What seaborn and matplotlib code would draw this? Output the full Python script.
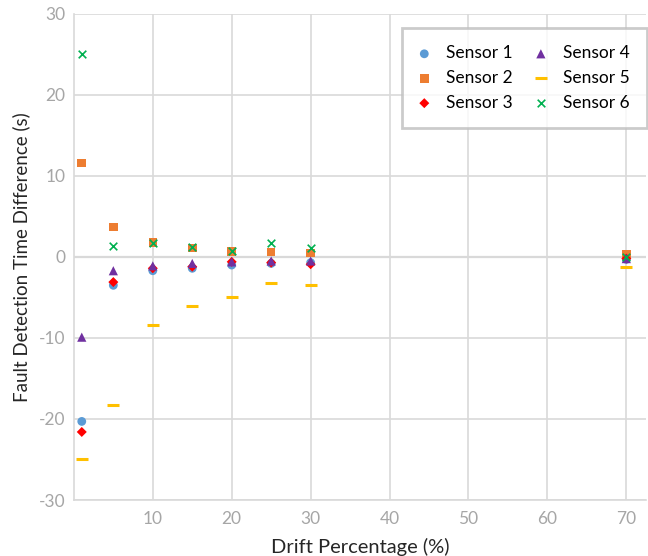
import matplotlib
matplotlib.use("Agg")
import matplotlib.pyplot as plt
import seaborn as sns
import pandas as pd

drift = [1, 5, 10, 15, 20, 25, 30, 70]
sensor1 = [-20.3, -3.5, -1.7, -1.4, -1.0, -0.8, -0.7, -0.3]
sensor2 = [11.6, 3.7, 1.8, 1.1, 0.7, 0.6, 0.5, 0.3]
sensor3 = [-21.6, -3.1, -1.4, -1.2, -0.6, -0.7, -0.9, -0.2]
sensor4 = [-9.9, -1.7, -1.1, -0.8, -0.6, -0.5, -0.5, -0.2]
sensor5 = [-24.9, -18.3, -8.4, -6.1, -4.9, -3.2, -3.5, -1.2]
sensor6 = [25.1, 1.4, 1.7, 1.2, 0.7, 1.7, 1.1, 0.0]

names = ["Sensor 1", "Sensor 2", "Sensor 3", "Sensor 4", "Sensor 5", "Sensor 6"]
series = [sensor1, sensor2, sensor3, sensor4, sensor5, sensor6]
colors = ["#5B9BD5", "#ED7D31", "#FF0000", "#7030A0", "#FFC000", "#00B050"]
markers = ["o", "s", "D", "^", "_", "x"]
sizes = [40, 38, 26, 44, 70, 30]

df = pd.DataFrame({
    "Drift": drift * len(names),
    "Value": [v for s in series for v in s],
    "Sensor": [n for n in names for _ in drift],
})

sns.set_style("white")
plt.rcParams["font.family"] = ["Lato", "DejaVu Sans"]
plt.rcParams["axes.unicode_minus"] = False

fig = plt.figure(figsize=(6.48, 5.56), dpi=100)
ax = fig.add_axes([0.114, 0.1007, 0.883, 0.8743])

for name, col, mk, sz in zip(names, colors, markers, sizes):
    sub = df[df["Sensor"] == name]
    kw = dict(edgecolor="none") if mk not in ("_", "x") else dict(linewidth=2.2 if mk == "_" else 1.2)
    sns.scatterplot(data=sub, x="Drift", y="Value", color=col, marker=mk, s=sz,
                    label=name, ax=ax, zorder=3, **kw)

ax.set_xlim(0, 72.5)
ax.set_ylim(-30, 30)
ax.set_xticks([10, 20, 30, 40, 50, 60, 70])
ax.set_yticks([-30, -20, -10, 0, 10, 20, 30])
ax.grid(True, color="#d9d9d9", linewidth=1.2)
ax.axhline(0, color="#d9d9d9", linewidth=1.6, zorder=1)
for side in ["top", "right"]:
    ax.spines[side].set_visible(False)
for side in ["left", "bottom"]:
    ax.spines[side].set_color("#d9d9d9")
    ax.spines[side].set_linewidth(1.2)
ax.tick_params(axis="both", colors="#a6a6a6", labelsize=12.5, length=0)
ax.tick_params(axis="y", pad=6)
ax.tick_params(axis="x", pad=8)
ax.set_xlabel("Drift Percentage (%)", fontsize=14.5, color="#262626", labelpad=8)
ax.set_ylabel("Fault Detection Time Difference (s)", fontsize=13.5, color="#262626", labelpad=6)

leg = ax.legend(ncol=2, loc="upper right", bbox_to_anchor=(1.0017, 0.971), fontsize=12.5,
                frameon=True, fancybox=False, borderpad=1.0, columnspacing=1.3,
                handlelength=0.6, handletextpad=0.97, labelspacing=0.5, markerscale=1.0,
                borderaxespad=0)
leg.get_frame().set_edgecolor("#bfbfbf")
leg.get_frame().set_linewidth(2)
for t in leg.get_texts():
    t.set_color("#000000")

fig.savefig("out.png", dpi=100)
